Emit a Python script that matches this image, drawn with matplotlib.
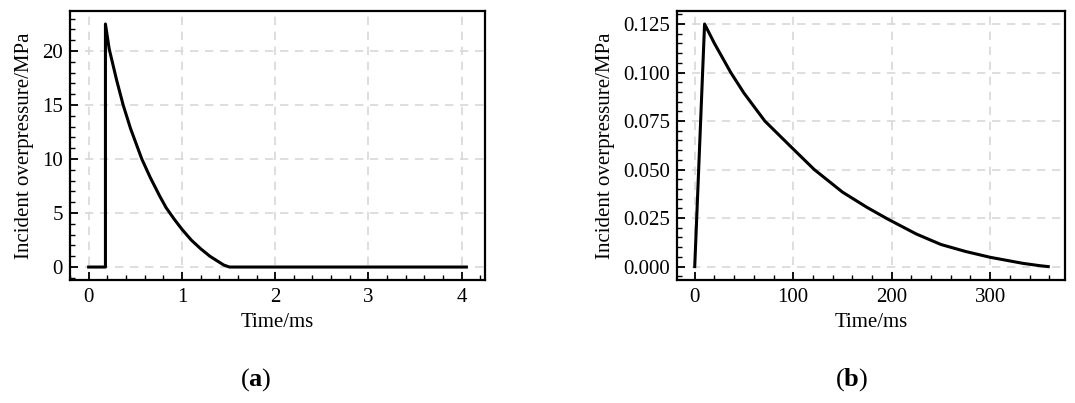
import matplotlib.pyplot as plt
from matplotlib.ticker import AutoMinorLocator

plt.rcParams['font.family'] = ['Liberation Serif', 'DejaVu Serif']
plt.rcParams['mathtext.fontset'] = 'custom'
plt.rcParams['mathtext.rm'] = 'Liberation Serif'
plt.rcParams['mathtext.bf'] = 'Liberation Serif:bold'

# panel (a): time in ms, overpressure in MPa
t_a = [0.0, 0.18, 0.18, 0.22, 0.30, 0.37, 0.45, 0.57, 0.66, 0.76, 0.83, 0.92, 1.00,
       1.10, 1.20, 1.30, 1.40, 1.45, 1.51, 4.05]
p_a = [0.0, 0.0, 22.5, 20.2, 17.3, 15.0, 12.8, 10.0, 8.3, 6.6, 5.5, 4.4, 3.5,
       2.5, 1.7, 1.0, 0.45, 0.18, 0.0, 0.0]

# panel (b)
t_b = [0, 10, 20, 36.6, 50, 71.2, 100, 121.4, 150, 175, 196, 225, 250, 275, 300, 333, 350, 359]
p_b = [0.0, 0.125, 0.115, 0.100, 0.0894, 0.075, 0.0606, 0.050, 0.0384, 0.0305, 0.0245,
       0.0168, 0.0114, 0.0078, 0.0048, 0.0017, 0.0005, 0.0]

fig = plt.figure(figsize=(10.75, 4.03), dpi=100)
ax1 = fig.add_axes([70/1075, 1-280/403, 415/1075, 269/403])
ax2 = fig.add_axes([677/1075, 1-280/403, 388/1075, 269/403])

def style(ax, xt, yt, ylabs=None):
    ax.set_xticks(xt)
    ax.set_yticks(yt)
    if ylabs is not None:
        ax.set_yticklabels(ylabs)
    ax.xaxis.set_minor_locator(AutoMinorLocator(5))
    ax.yaxis.set_minor_locator(AutoMinorLocator(5))
    ax.tick_params(which='both', direction='in', top=False, right=False, labelsize=15, colors='black')
    ax.tick_params(axis='x', which='major', pad=6)
    ax.tick_params(axis='y', which='major', pad=5)
    ax.tick_params(which='major', length=6, width=1.3)
    ax.tick_params(which='minor', length=3.5, width=1.0)
    ax.grid(True, linestyle=(0, (5, 4)), color='#d8d8d8', linewidth=1.2)
    for s in ax.spines.values():
        s.set_linewidth(1.6)
    ax.set_xlabel('Time/ms', fontsize=15, labelpad=4)
    ax.set_ylabel('Incident overpressure/MPa', fontsize=15, labelpad=6)

ax1.plot(t_a, p_a, color='black', linewidth=2.2)
ax1.set_xlim(-0.2, 4.25)
ax1.set_ylim(-1.2, 23.7)
style(ax1, [0, 1, 2, 3, 4], [0, 5, 10, 15, 20])

ax2.plot(t_b, p_b, color='black', linewidth=2.2)
ax2.set_xlim(-18, 376)
ax2.set_ylim(-0.0069, 0.1317)
style(ax2, [0, 100, 200, 300], [0, 0.025, 0.05, 0.075, 0.1, 0.125],
      ['0.000', '0.025', '0.050', '0.075', '0.100', '0.125'])

fig.text(256/1075, 1-380/403, r'($\mathbf{a}$)', fontsize=19, ha='center', va='center')
fig.text(852/1075, 1-380/403, r'($\mathbf{b}$)', fontsize=19, ha='center', va='center')

fig.savefig('out.png', dpi=100)
